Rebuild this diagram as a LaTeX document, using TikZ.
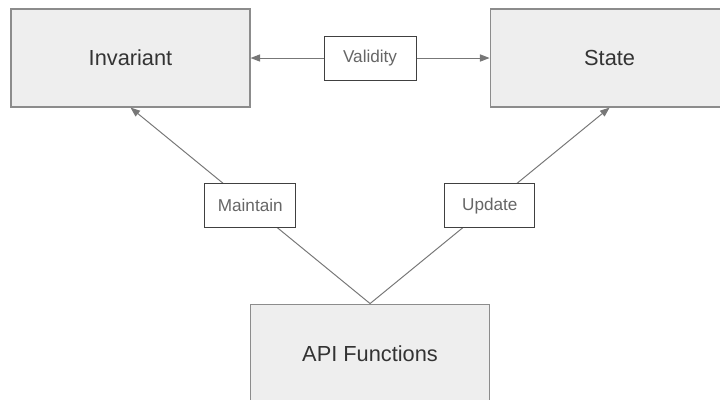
\documentclass[tikz,border=0pt]{standalone}
\usepackage{fontspec}
\setmainfont{Liberation Sans}
\usetikzlibrary{arrows.meta, positioning, calc}

\definecolor{boxfill}{HTML}{EEEEEE}
\definecolor{boxline}{HTML}{8C8C8C}
\definecolor{linkgray}{HTML}{777777}
\definecolor{textdark}{HTML}{333333}
\definecolor{textgray}{HTML}{666666}

\begin{document}
\begin{tikzpicture}[node distance=4.9cm,
    block/.style={rectangle, draw=boxline, line width=0.8pt, fill=boxfill, minimum width=5.975cm, minimum height=2.45cm, text=textdark, font=\fontsize{15.5}{18}\selectfont},
    tag/.style={rectangle, draw=black!75, fill=white, line width=0.7pt, minimum width=2.3cm, minimum height=1.1cm, text=textgray, font=\fontsize{12.2}{14}\selectfont},
    arrow/.style={draw=linkgray, line width=0.7pt, -{Triangle[length=2.4mm, width=1.8mm]}}]

    \useasboundingbox (0,0) rectangle (18,-9.975);

    \node [block] (inv) at (3.2625,-1.45) {Invariant};
    \node [block, right=5.975cm of inv] (state) {State};
    \coordinate (mid) at ($(inv.south)!0.5!(state.south)$);
    \node [block, below=of mid, minimum height=2.5cm] (api) {API Functions};
    \node [tag] (valid) at ($(inv)!0.5!(state)$) {Validity};

    \draw [arrow] (valid) -- (inv);
    \draw [arrow] (valid) -- (state);
    \draw [arrow] (api.north) -- node[tag, minimum width=2.275cm] {Maintain} (inv.south);
    \draw [arrow] (api.north) -- node[tag, minimum width=2.25cm] {Update} (state.south);
\end{tikzpicture}
\end{document}
